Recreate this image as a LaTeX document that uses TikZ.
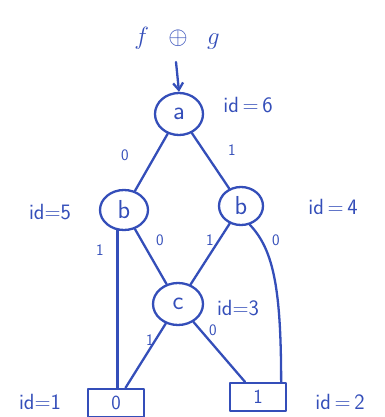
\documentclass[tikz,border=0pt]{standalone}
\usepackage{fontspec}
\usetikzlibrary{shapes.geometric,calc,arrows.meta}
\definecolor{ink}{RGB}{52,78,185}
\tikzset{
  ink/.style={draw=ink, line width=2.3pt, line cap=round, line join=round},
  var/.style={ink, ellipse, inner sep=0pt, text=ink, font=\fontsize{26}{28}\selectfont\sffamily},
  leaf/.style={ink, rectangle, inner sep=0pt, minimum width=56pt, minimum height=28pt, text=ink, font=\fontsize{20}{22}\selectfont\sffamily},
  idlab/.style={text=ink, font=\fontsize{22}{24}\selectfont\sffamily, inner sep=0pt},
  lab/.style={text=ink, font=\fontsize{16}{18}\selectfont\sffamily, inner sep=0pt},
  edge/.style={ink}
}
\begin{document}
\begin{tikzpicture}[x=1pt,y=-1pt]
\useasboundingbox (0,0) rectangle (384,417);
% title
\node[text=ink, font=\fontsize{26}{28}\selectfont, inner sep=0pt] (title) at (177,38) {$f\mkern10mu\oplus\mkern10mu g$};
% nodes
\node[var, minimum width=48pt, minimum height=42pt] (a) at (179,114) {a};
\node[var, minimum width=48pt, minimum height=40pt] (b5) at (124,210) {b};
\node[var, minimum width=44pt, minimum height=38pt] (b4) at (241,206) {b};
\node[var, minimum width=50pt, minimum height=42pt] (c) at (178,304) {c};
\node[leaf] (l0) at (116,403) {0};
\node[leaf] (l1) at (258,397) {1};
% id labels
\node[idlab] (id6) at (248,105) {id\,=\,6};
\node[idlab] (id5) at (50,212) {id=5};
\node[idlab] (id4) at (333,207) {id\,=\,4};
\node[idlab] (id3) at (238,308) {id=3};
\node[idlab] (id1) at (40,402) {id=1};
\node[idlab] (id2) at (340,402) {id\,=\,2};
% entry arrow
\coordinate (in) at (176,62);
\draw[edge, -{Straight Barb[length=7pt,width=10pt]}] (in) -- (a.north);
% edges
\draw[edge] (a) -- (b5);
\draw[edge] (a) -- (b4);
\draw[edge] (b5) -- (c);
\draw[edge] (b4) -- (c);
\draw[edge] (b5.252) -- (b5.252 |- l0.north);
\coordinate (l1top) at ($(l1.north east)+(-6,0)$);
\draw[edge] (b4.295) .. controls (274,250) and (281,290) .. (l1top);
\draw[edge] (c) -- (l0);
\draw[edge] (c) -- (l1);
% edge labels
\node[lab] (e1) at (125,155) {0};
\node[lab] (e2) at (232,150) {1};
\node[lab] (e3) at (100,250) {1};
\node[lab] (e4) at (160,240) {0};
\node[lab] (e5) at (210,240) {1};
\node[lab] (e6) at (276,240) {0};
\node[lab] (e7) at (150,340) {1};
\node[lab] (e8) at (213,330) {0};
\end{tikzpicture}
\end{document}
